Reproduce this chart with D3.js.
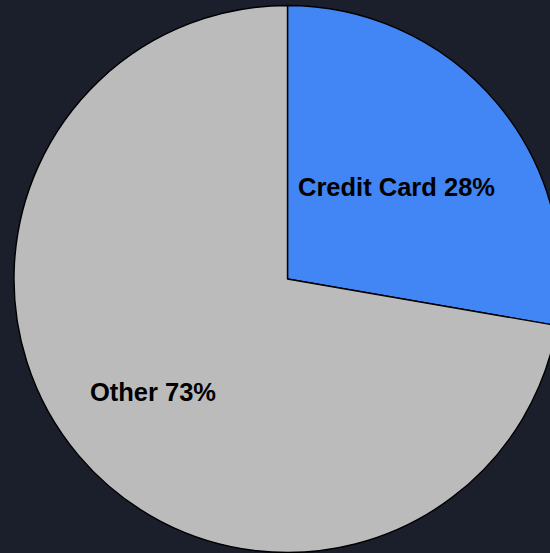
<!DOCTYPE html>
<html>
<head>
<meta charset="utf-8">
<script src="https://cdn.jsdelivr.net/npm/d3@7"></script>
<style>
  html, body { margin: 0; padding: 0; background: #1b1f2b; }
  svg { display: block; }
</style>
</head>
<body>
<svg id="chart" width="550" height="553"></svg>
<script>
// Payment method shares
const categories = ["Credit Card", "Other"];
const values = [28, 73];
const colors = ["#4285f4", "#bbbbbb"];

const width = 550, height = 553;
const cx = 287.5, cy = 279, radius = 273.5;
// Relative distance of each label from the centre
const labelFactors = [0.521, 0.643];

const data = categories.map((c, i) => ({ category: c, value: values[i] }));

const svg = d3.select("#chart");
svg.append("rect")
  .attr("width", width).attr("height", height)
  .attr("fill", "#1b1f2b");

const color = d3.scaleOrdinal().domain(categories).range(colors);

const pie = d3.pie().value(d => d.value).sort(null);
const arc = d3.arc().innerRadius(0).outerRadius(radius);

const g = svg.append("g").attr("transform", `translate(${cx},${cy})`);
const arcs = pie(data);

g.selectAll("path.slice")
  .data(arcs)
  .join("path")
  .attr("class", "slice")
  .attr("d", arc)
  .attr("fill", d => color(d.data.category))
  .attr("stroke", "#000")
  .attr("stroke-width", 1.4)
  .attr("stroke-linejoin", "round");

g.selectAll("text.label")
  .data(arcs)
  .join("text")
  .attr("class", "label")
  .attr("transform", (d, i) => {
    const r = radius * labelFactors[i];
    const a = d3.arc().innerRadius(r).outerRadius(r);
    const [x, y] = a.centroid(d);
    return `translate(${x},${y})`;
  })
  .attr("text-anchor", "middle")
  .attr("dy", "0.36em")
  .attr("font-family", "'Liberation Sans', Arial, sans-serif")
  .attr("font-weight", "bold")
  .attr("font-size", 25.5)
  .attr("fill", "#000")
  .text(d => `${d.data.category} ${d3.format(".0f")(d.data.value)}%`);
</script>
</body>
</html>
